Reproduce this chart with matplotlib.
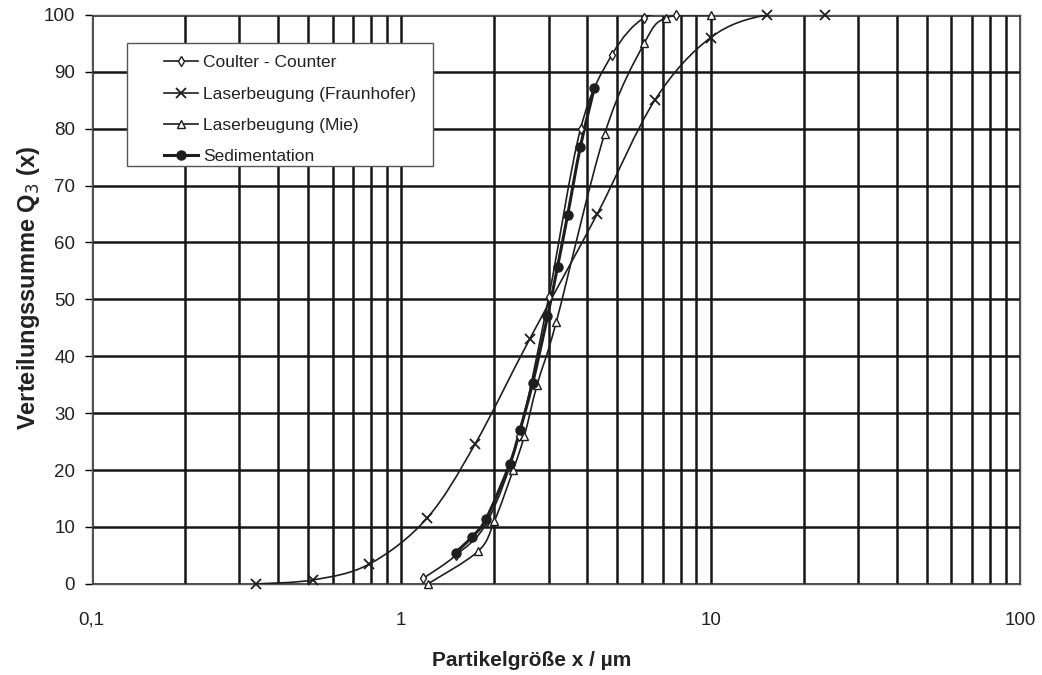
import numpy as np
import matplotlib.pyplot as plt
from matplotlib.path import Path
from matplotlib.patches import PathPatch, Rectangle
from matplotlib.lines import Line2D
from matplotlib.ticker import FixedLocator, FixedFormatter, NullFormatter

plt.rcParams['font.family'] = ['Liberation Sans', 'DejaVu Sans']

# Verteilungssummen Q3(x) der vier Messverfahren
coulter_x = [1.18, 1.5, 1.9, 2.4, 3.0, 3.8, 4.8, 6.1, 7.7]
coulter_y = [1.0, 5.0, 11.0, 26.0, 50.5, 80.0, 93.0, 99.5, 100.0]

fraunhofer_x = [0.34, 0.52, 0.79, 1.21, 1.73, 2.6, 4.3, 6.6, 10.0, 15.2, 23.5]
fraunhofer_y = [0.0, 0.7, 3.5, 11.5, 24.5, 43.0, 65.0, 85.0, 96.0, 100.0, 100.0]

mie_x = [1.22, 1.77, 2.0, 2.3, 2.5, 2.75, 3.17, 4.54, 6.1, 7.2, 10.0]
mie_y = [0.0, 5.7, 11.0, 20.0, 26.0, 35.0, 46.0, 79.0, 95.0, 99.5, 100.0]

sed_x = [1.50, 1.69, 1.88, 2.24, 2.42, 2.66, 2.97, 3.2, 3.45, 3.79, 4.21]
sed_y = [5.5, 8.2, 11.4, 21.0, 27.0, 35.3, 47.0, 55.7, 64.8, 76.7, 87.2]

x_ticks = [0.1, 1, 10, 100]
x_ticklabels = ['0,1', '1', '10', '100']
y_ticks = list(range(0, 101, 10))

INK = '#1e1e1e'


def smooth_path(xs, ys):
    # geglaettete Linie wie im Excel-Diagramm (Bezier durch die Messpunkte, in log x)
    u = np.log10(xs)
    v = np.asarray(ys, dtype=float)
    n = len(u)
    verts = [(xs[0], v[0])]
    codes = [Path.MOVETO]
    for i in range(n - 1):
        a = max(i - 1, 0)
        b = min(i + 2, n - 1)
        c1u = u[i] + (u[i + 1] - u[a]) / 6
        c1v = v[i] + (v[i + 1] - v[a]) / 6
        c2u = u[i + 1] - (u[b] - u[i]) / 6
        c2v = v[i + 1] - (v[b] - v[i]) / 6
        verts += [(10 ** c1u, c1v), (10 ** c2u, c2v), (xs[i + 1], v[i + 1])]
        codes += [Path.CURVE4] * 3
    return Path(verts, codes)


fig = plt.figure(figsize=(10.42, 6.75), dpi=100)
ax = fig.add_axes([0.088, 0.135, 0.891, 0.843])

series = [
    (coulter_x, coulter_y, 'Coulter - Counter', 1.2,
     dict(marker='d', ms=5, mfc='white', mec=INK, mew=1.0)),
    (fraunhofer_x, fraunhofer_y, 'Laserbeugung (Fraunhofer)', 1.2,
     dict(marker='x', ms=7, mec=INK, mew=1.3)),
    (mie_x, mie_y, 'Laserbeugung (Mie)', 1.2,
     dict(marker='^', ms=6, mfc='white', mec=INK, mew=1.0)),
    (sed_x, sed_y, 'Sedimentation', 2.2,
     dict(marker='o', ms=6.5, mfc=INK, mec=INK)),
]

handles = []
for xs, ys, name, lw, mk in series:
    ax.add_patch(PathPatch(smooth_path(xs, ys), fill=False, edgecolor=INK,
                           lw=lw, zorder=3))
    ax.plot(xs, ys, ls='none', zorder=4, clip_on=False, **mk)
    handles.append(Line2D([], [], color=INK, lw=lw, **mk))

ax.set_xscale('log')
ax.set_xlim(0.1, 100)
ax.set_ylim(0, 100)

ax.xaxis.set_major_locator(FixedLocator(x_ticks))
ax.xaxis.set_major_formatter(FixedFormatter(x_ticklabels))
minor = [m * 10.0 ** e for e in (-1, 0, 1) for m in range(2, 10)]
ax.xaxis.set_minor_locator(FixedLocator(minor))
ax.xaxis.set_minor_formatter(NullFormatter())
ax.set_yticks(y_ticks)

ax.grid(True, which='both', axis='x', color='#161616', lw=1.8)
ax.grid(True, which='major', axis='y', color='#161616', lw=1.8)
ax.set_axisbelow(True)

ax.tick_params(axis='x', which='both', length=0, pad=20, labelsize=13.5,
               labelcolor='#222222')
ax.tick_params(axis='y', which='major', length=5, width=1, direction='out',
               pad=7, labelsize=13.5, labelcolor='#222222')
for s in ax.spines.values():
    s.set_color('#555555')
    s.set_linewidth(1.0)

ax.set_xlabel('Partikelgröße x / µm', fontsize=15, fontweight='bold',
              color='#222222')
ax.xaxis.set_label_coords(0.474, -0.118)
ax.set_ylabel('Verteilungssumme Q$_3$ (x)', fontsize=17, fontweight='bold',
              color='#222222')
ax.yaxis.set_label_coords(-0.054, 0.52)

# Legende mit eigenem Rahmen
frame = Rectangle((0.0377, 0.735), 0.33, 0.216, transform=ax.transAxes,
                  facecolor='white', edgecolor='#555555', lw=1.0, zorder=5)
ax.add_patch(frame)
leg = ax.legend(handles, [s[2] for s in series], loc='upper left',
                bbox_to_anchor=(0.072, 0.938), borderaxespad=0, fontsize=12.5,
                frameon=False, handlelength=2.0, borderpad=0.3,
                labelspacing=0.92, handletextpad=0.25)
leg.set_zorder(6)
for t in leg.get_texts():
    t.set_color('#222222')

fig.savefig('out.png', dpi=100)
